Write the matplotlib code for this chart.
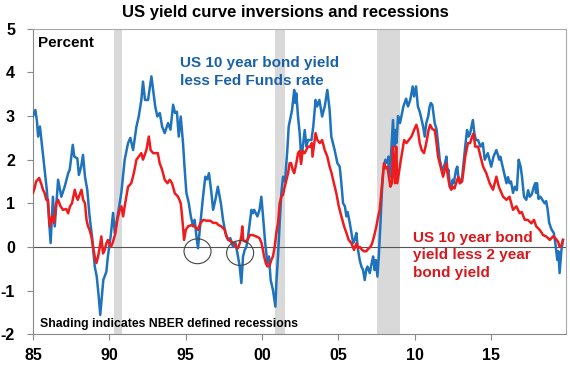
import numpy as np
import matplotlib
matplotlib.use("Agg")
from matplotlib import pyplot as plt
from matplotlib.patches import Ellipse

plt.rcParams['font.family'] = ['Liberation Sans', 'DejaVu Sans']
plt.rcParams['font.weight'] = 'bold'
plt.rcParams['axes.unicode_minus'] = False

# US 10 year bond yield less Fed Funds rate
blue_years = [1985.0, 1985.15, 1985.25, 1985.33, 1985.45, 1985.6, 1985.75, 1985.9, 1986.0, 1986.15,
              1986.3, 1986.42, 1986.64, 1986.85, 1987.07, 1987.3, 1987.4, 1987.6, 1987.7, 1987.9,
              1988.0, 1988.15, 1988.27, 1988.4, 1988.55, 1988.7, 1988.86, 1989.04, 1989.17, 1989.3,
              1989.4, 1989.6, 1989.8, 1989.9, 1990.08, 1990.24, 1990.35, 1990.57, 1990.78, 1991.0,
              1991.22, 1991.37, 1991.55, 1991.77, 1991.92, 1992.09, 1992.2, 1992.33, 1992.53, 1992.75,
              1992.86, 1993.0, 1993.14, 1993.3, 1993.45, 1993.62, 1993.84, 1994.0, 1994.17, 1994.3,
              1994.42, 1994.54, 1994.67, 1994.82, 1994.93, 1995.04, 1995.2, 1995.33, 1995.48, 1995.58,
              1995.7, 1995.8, 1995.96, 1996.13, 1996.28, 1996.4, 1996.52, 1996.68, 1996.79, 1996.94,
              1997.1, 1997.3, 1997.44, 1997.6, 1997.77, 1997.92, 1998.1, 1998.25, 1998.42, 1998.53,
              1998.64, 1998.75, 1998.86, 1998.97, 1999.08, 1999.19, 1999.3, 1999.4, 1999.48, 1999.69,
              1999.83, 1999.95, 2000.06, 2000.2, 2000.35, 2000.45, 2000.56, 2000.71, 2000.87, 2000.93,
              2001.04, 2001.15, 2001.26, 2001.37, 2001.5, 2001.65, 2001.74, 2001.87, 2001.96, 2002.1,
              2002.17, 2002.24, 2002.35, 2002.46, 2002.57, 2002.79, 2002.9, 2003.0, 2003.23, 2003.35,
              2003.5, 2003.6, 2003.75, 2003.93, 2004.1, 2004.27, 2004.42, 2004.53, 2004.75, 2004.93,
              2005.08, 2005.19, 2005.3, 2005.42, 2005.52, 2005.6, 2005.74, 2005.85, 2005.96, 2006.06,
              2006.17, 2006.28, 2006.39, 2006.5, 2006.6, 2006.72, 2006.82, 2006.9, 2007.05, 2007.17,
              2007.27, 2007.37, 2007.45, 2007.55, 2007.64, 2007.75, 2007.85, 2007.94, 2008.07, 2008.2,
              2008.27, 2008.36, 2008.57, 2008.65, 2008.75, 2008.8, 2008.9, 2009.03, 2009.25, 2009.43,
              2009.55, 2009.7, 2009.86, 2009.95, 2010.08, 2010.2, 2010.32, 2010.45, 2010.54, 2010.65,
              2010.75, 2010.88, 2010.97, 2011.05, 2011.15, 2011.3, 2011.42, 2011.52, 2011.63, 2011.74,
              2011.85, 2011.96, 2012.07, 2012.14, 2012.2, 2012.28, 2012.39, 2012.48, 2012.55, 2012.7,
              2012.78, 2012.85, 2012.95, 2013.1, 2013.3, 2013.42, 2013.52, 2013.62, 2013.8, 2013.9,
              2014.0, 2014.14, 2014.3, 2014.45, 2014.58, 2014.78, 2015.0, 2015.15, 2015.34, 2015.45,
              2015.52, 2015.6, 2015.8, 2016.0, 2016.1, 2016.2, 2016.3, 2016.43, 2016.55, 2016.68,
              2016.8, 2016.93, 2017.02, 2017.15, 2017.3, 2017.42, 2017.52, 2017.65, 2017.8, 2017.88,
              2017.94, 2018.0, 2018.1, 2018.22, 2018.5, 2018.6, 2018.7, 2018.8, 2018.95, 2019.1,
              2019.2, 2019.33, 2019.4, 2019.48, 2019.6, 2019.7]
blue_vals = [3.0, 3.14, 2.9, 2.53, 2.76, 2.27, 1.77, 1.31, 0.85, 0.09,
             1.15, 0.47, 1.54, 1.15, 1.38, 1.69, 1.77, 2.34, 2.07, 2.03,
             1.65, 1.84, 2.11, 1.61, 1.31, 0.70, 0.24, -0.45, -0.68, -1.14,
             -1.56, -0.76, -0.57, -0.22, 0.24, 0.78, 0.32, 0.78, 1.24, 2.0,
             2.38, 2.5, 2.22, 2.76, 2.99, 3.37, 3.79, 3.37, 3.37, 3.91,
             3.6, 3.22, 2.99, 3.07, 2.76, 2.61, 2.84, 2.69, 3.26, 3.07,
             3.1, 2.53, 2.99, 2.38, 1.77, 1.24, 1.0, 0.7, 0.47, 0.62,
             0.24, -0.03, 0.55, 1.15, 1.61, 1.55, 1.69, 1.24, 0.85, 1.08,
             1.38, 1.0, 0.62, 0.32, 0.16, 0.2, 0.0, 0.1, -0.22, -0.45,
             -0.83, -0.22, -0.07, 0.0, 0.24, 0.55, 0.85, 0.77, 0.85, 0.7,
             0.85, 1.15, 0.7, 0.09, -0.37, -0.22, -0.76, -0.99, -1.37, -0.83,
             -0.22, 0.55, 1.24, 1.61, 1.5, 2.22, 2.76, 2.99, 3.14, 3.6,
             3.3, 3.52, 2.99, 2.61, 2.0, 2.68, 2.3, 2.45, 2.45, 2.76,
             3.37, 3.22, 3.37, 2.99, 3.22, 3.6, 3.14, 2.53, 2.22, 1.92,
             1.84, 1.46, 1.0, 0.93, 0.70, 0.8, 0.55, 0.32, 0.09, 0.16,
             0.32, -0.07, -0.3, -0.45, -0.52, -0.76, -0.52, -0.45, -0.6, -0.38,
             -0.22, -0.53, -0.3, -0.68, -0.22, 0.55, 1.31, 1.77, 2.0, 1.92,
             2.07, 1.6, 2.91, 2.3, 2.68, 2.38, 3.0, 2.84, 3.22, 3.4,
             3.22, 3.37, 3.68, 3.45, 3.68, 3.22, 3.1, 2.91, 2.76, 2.53,
             2.84, 3.0, 3.22, 3.3, 3.25, 2.84, 2.7, 2.38, 2.0, 1.84,
             1.77, 1.9, 2.07, 1.7, 1.77, 1.46, 1.38, 1.54, 1.46, 1.77,
             1.84, 1.6, 1.46, 1.6, 2.3, 2.68, 2.53, 2.6, 2.91, 2.6,
             2.45, 2.45, 2.3, 2.38, 2.0, 2.15, 1.84, 2.07, 2.22, 2.1,
             2.0, 2.07, 1.77, 1.46, 1.6, 1.46, 1.5, 1.24, 1.38, 1.3,
             2.0, 1.84, 1.6, 1.15, 1.08, 1.3, 1.15, 1.2, 1.38, 1.46,
             1.24, 1.46, 1.1, 1.15, 1.0, 1.05, 0.85, 0.55, 0.4, 0.32,
             0.09, -0.3, -0.1, -0.6, -0.07, 0.16]

# US 10 year bond yield less 2 year bond yield
red_years = [1985.0, 1985.1, 1985.2, 1985.4, 1985.55, 1985.65, 1985.75, 1985.87, 1985.98, 1986.09,
             1986.24, 1986.37, 1986.52, 1986.64, 1986.8, 1986.96, 1987.17, 1987.3, 1987.42, 1987.55,
             1987.73, 1987.84, 1987.93, 1988.0, 1988.17, 1988.28, 1988.4, 1988.5, 1988.6, 1988.7,
             1988.82, 1988.93, 1989.04, 1989.15, 1989.26, 1989.37, 1989.47, 1989.58, 1989.69, 1989.8,
             1989.9, 1990.0, 1990.1, 1990.2, 1990.39, 1990.52, 1990.67, 1990.78, 1990.9, 1991.0,
             1991.22, 1991.43, 1991.6, 1991.77, 1991.92, 1992.09, 1992.2, 1992.42, 1992.58, 1992.7,
             1992.86, 1993.0, 1993.17, 1993.29, 1993.45, 1993.62, 1993.8, 1993.95, 1994.1, 1994.28,
             1994.5, 1994.67, 1994.76, 1994.89, 1995.0, 1995.15, 1995.37, 1995.6, 1995.8, 1995.95,
             1996.15, 1996.37, 1996.6, 1996.8, 1997.0, 1997.15, 1997.33, 1997.55, 1997.66, 1997.8,
             1997.97, 1998.16, 1998.3, 1998.42, 1998.53, 1998.64, 1998.7, 1998.76, 1998.9, 1999.05,
             1999.19, 1999.4, 1999.62, 1999.83, 1999.97, 2000.13, 2000.24, 2000.35, 2000.5, 2000.6,
             2000.71, 2000.82, 2000.93, 2001.04, 2001.15, 2001.26, 2001.37, 2001.48, 2001.59, 2001.7,
             2001.8, 2001.9, 2002.0, 2002.1, 2002.24, 2002.35, 2002.45, 2002.55, 2002.65, 2002.79,
             2003.0, 2003.15, 2003.25, 2003.3, 2003.5, 2003.62, 2003.78, 2003.93, 2004.1, 2004.27,
             2004.42, 2004.55, 2004.7, 2004.86, 2005.02, 2005.19, 2005.37, 2005.52, 2005.67, 2005.85,
             2006.02, 2006.17, 2006.28, 2006.4, 2006.55, 2006.67, 2006.82, 2006.98, 2007.1, 2007.2,
             2007.33, 2007.48, 2007.6, 2007.7, 2007.8, 2007.9, 2007.98, 2008.1, 2008.2, 2008.3,
             2008.4, 2008.5, 2008.57, 2008.7, 2008.78, 2008.85, 2009.12, 2009.3, 2009.45, 2009.6,
             2009.78, 2009.95, 2010.1, 2010.2, 2010.32, 2010.45, 2010.6, 2010.75, 2010.9, 2011.0,
             2011.15, 2011.3, 2011.4, 2011.52, 2011.63, 2011.74, 2011.85, 2011.96, 2012.07, 2012.17,
             2012.28, 2012.39, 2012.5, 2012.6, 2012.7, 2012.78, 2012.85, 2012.95, 2013.1, 2013.3,
             2013.48, 2013.62, 2013.75, 2013.85, 2013.95, 2014.14, 2014.25, 2014.47, 2014.68, 2014.9,
             2015.12, 2015.34, 2015.42, 2015.5, 2015.78, 2016.0, 2016.2, 2016.43, 2016.65, 2016.87,
             2017.0, 2017.2, 2017.4, 2017.63, 2017.8, 2017.95, 2018.18, 2018.4, 2018.6, 2018.84,
             2019.05, 2019.2, 2019.38, 2019.48, 2019.6, 2019.7]
red_vals = [1.24, 1.35, 1.5, 1.58, 1.43, 1.31, 1.24, 1.08, 1.08, 0.47,
            0.7, 0.55, 1.0, 1.08, 0.93, 0.85, 0.87, 0.77, 0.93, 1.0,
            1.31, 1.15, 1.08, 1.15, 1.31, 1.08, 1.0, 0.62, 0.47, 0.39,
            0.24, 0.0, -0.22, -0.37, -0.22, 0.0, 0.24, -0.15, -0.07, 0.08,
            0.16, 0.08, 0.0, 0.08, 0.31, 0.62, 0.85, 0.93, 0.7, 0.93,
            1.38, 1.46, 1.69, 2.0, 2.07, 2.15, 2.0, 2.22, 2.53, 2.22,
            2.15, 2.15, 2.15, 1.92, 1.77, 1.54, 1.46, 1.54, 1.46, 1.23,
            1.15, 1.0, 0.7, 0.16, 0.39, 0.47, 0.5, 0.47, 0.39, 0.54,
            0.62, 0.6, 0.6, 0.55, 0.55, 0.5, 0.47, 0.39, 0.24, 0.16,
            0.12, 0.08, 0.0, -0.03, 0.08, 0.24, 0.47, 0.16, 0.12, 0.16,
            0.27, 0.27, 0.24, 0.2, 0.08, -0.22, -0.37, -0.45, -0.42, -0.3,
            -0.22, 0.0, 0.32, 0.54, 1.0, 1.15, 1.2, 1.38, 1.54, 1.69,
            1.92, 1.92, 1.77, 1.69, 1.92, 2.15, 2.2, 1.9, 2.2, 2.15,
            2.3, 2.3, 2.38, 2.07, 2.61, 2.45, 2.38, 2.45, 2.22, 2.07,
            1.84, 1.69, 1.46, 1.23, 0.93, 0.70, 0.47, 0.32, 0.16, 0.08,
            -0.07, 0.08, -0.03, 0.0, -0.07, -0.1, -0.1, -0.03, 0.0, 0.08,
            0.24, 0.47, 0.7, 0.85, 1.23, 1.61, 1.92, 1.8, 1.84, 1.61,
            1.38, 1.46, 2.3, 1.46, 2.3, 1.46, 2.07, 2.45, 2.38, 2.45,
            2.53, 2.68, 2.8, 2.68, 2.38, 2.22, 2.15, 2.38, 2.68, 2.8,
            2.7, 2.68, 2.45, 2.07, 1.92, 1.77, 1.61, 1.77, 1.92, 1.61,
            1.38, 1.31, 1.38, 1.34, 1.46, 1.54, 1.61, 1.46, 1.5, 2.07,
            2.38, 2.38, 2.53, 2.6, 2.3, 2.3, 2.15, 1.84, 1.69, 1.46,
            1.31, 1.61, 1.5, 1.38, 1.15, 1.08, 1.15, 0.85, 0.93, 0.77,
            0.8, 0.62, 0.62, 0.54, 0.62, 0.47, 0.39, 0.27, 0.24, 0.16,
            0.24, 0.2, 0.12, 0.0, 0.03, 0.16]

recessions = [(1990.3, 1990.85), (2000.85, 2001.5), (2007.5, 2009.0)]
circle_centers = [(1995.77, -0.10), (1998.56, -0.14)]

year_ticks = [1985, 1990, 1995, 2000, 2005, 2010, 2015]
year_labels = ['85', '90', '95', '00', '05', '10', '15']

blue = '#1f73bd'
red = '#ee1c1c'

fig = plt.figure(figsize=(5.7, 3.7), dpi=100)
ax = fig.add_axes([0.058, 0.097, 0.935, 0.825])

for start, end in recessions:
    ax.axvspan(start, end, color='#d9d9d9', lw=0, zorder=0)

ax.axhline(0, color='#555555', lw=0.8, zorder=1)
ax.plot(blue_years, blue_vals, color=blue, lw=1.8, zorder=3)
ax.plot(red_years, red_vals, color=red, lw=1.8, zorder=4)

for cx, cy in circle_centers:
    ax.add_patch(Ellipse((cx, cy), 1.77, 0.57, fill=False, ec='#444444', lw=0.8, zorder=5))

ax.set_xlim(1985, 2019.9)
ax.set_ylim(-2, 5)
ax.set_xticks(year_ticks)
ax.set_xticklabels(year_labels)
ax.set_yticks(range(-2, 6))
ax.tick_params(axis='both', labelsize=11.5, length=4, color='#888888', width=0.8)
ax.tick_params(axis='y', pad=9)
ax.tick_params(axis='x', pad=6)
for lab in ax.get_xticklabels() + ax.get_yticklabels():
    lab.set_fontweight('bold')

for s in ['left', 'bottom']:
    ax.spines[s].set_color('#888888')
for s in ['top', 'right']:
    ax.spines[s].set_color('#aaaaaa')

fig.text(0.5, 0.965, 'US yield curve inversions and recessions', ha='center', va='center',
         fontsize=12, fontweight='bold')
ax.text(0.01, 0.975, 'Percent', transform=ax.transAxes, ha='left', va='top',
        fontsize=11, fontweight='bold')
ax.text(0.276, 0.91, 'US 10 year bond yield\nless Fed Funds rate', transform=ax.transAxes,
        ha='left', va='top', fontsize=11, fontweight='bold', color='#1a62a8', linespacing=1.32)
ax.text(0.712, 0.338, 'US 10 year bond\nyield less 2 year\nbond yield', transform=ax.transAxes,
        ha='left', va='top', fontsize=11, fontweight='bold', color='#d41a1f', linespacing=1.32)
ax.text(0.013, 0.012, 'Shading indicates NBER defined recessions', transform=ax.transAxes,
        ha='left', va='bottom', fontsize=8.8, fontweight='bold')

fig.savefig('out.png', dpi=100)
